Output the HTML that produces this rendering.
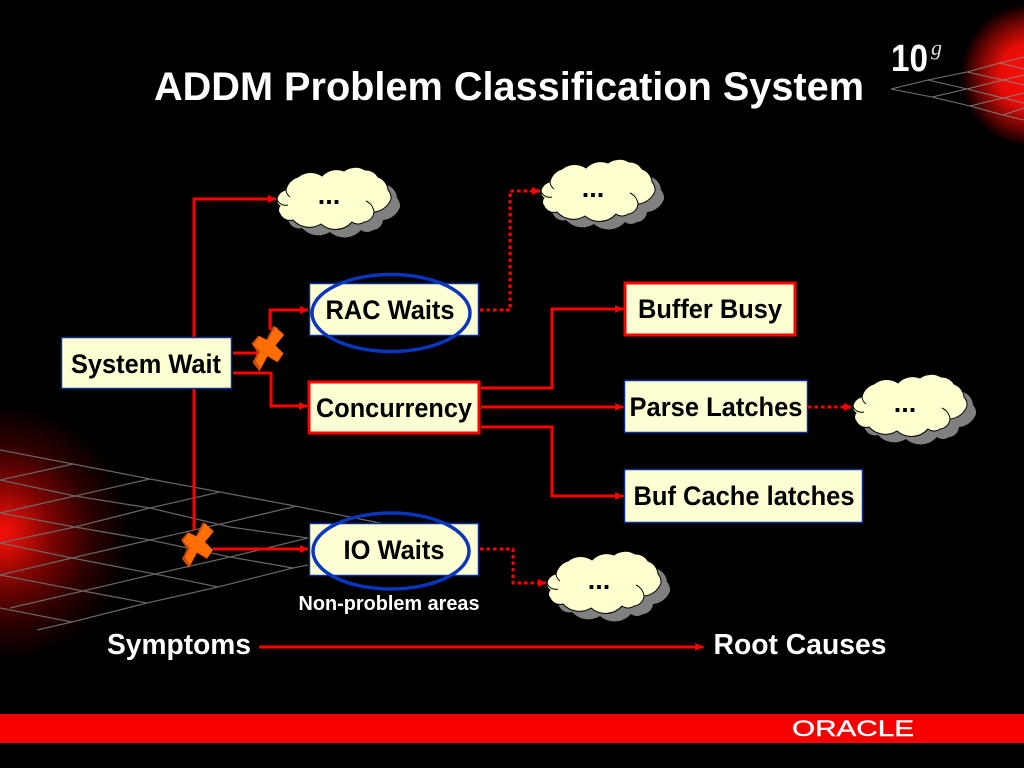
<!DOCTYPE html>
<html><head><meta charset="utf-8"><style>html,body{margin:0;padding:0;background:#000;overflow:hidden}svg{display:block}text{font-family:"Liberation Sans",sans-serif;font-weight:bold}</style></head><body>
<svg xmlns="http://www.w3.org/2000/svg" width="1024" height="768" viewBox="0 0 1024 768">
<defs>
<radialGradient id="gl"><stop offset="0" stop-color="#f81008"/><stop offset=".15" stop-color="#d00c05"/><stop offset=".4" stop-color="#780402"/><stop offset=".7" stop-color="#2c0100"/><stop offset="1" stop-color="#000"/></radialGradient>
<radialGradient id="gr"><stop offset="0" stop-color="#ff1008"/><stop offset=".45" stop-color="#e80c06"/><stop offset=".75" stop-color="#700502"/><stop offset="1" stop-color="#000"/></radialGradient>
<path id="cl" d="M0 31A11 11 0 0 1 9 22A17 17 0 0 1 21 9A20 20 0 0 1 45 8A20 20 0 0 1 67 3A19 19 0 0 1 88 2A14 14 0 0 1 101 9A15 15 0 0 1 111 22A12 12 0 0 1 114 31A20 20 0 0 1 97 44A11 11 0 0 1 87 54A10 10 0 0 1 75 54A22 22 0 0 1 44 56A22 22 0 0 1 16 52A11 11 0 0 1 3 46A6 6 0 0 1 3 38A7 7 0 0 1 0 31Z"/>
<g id="cloud"><use href="#cl" x="9" y="8" fill="#808080"/><use href="#cl" fill="#ffffd0" stroke="#000" stroke-width="1"/><path d="M89 33A14 14 0 0 1 97 44M0 31A9 9 0 0 0 11 37M9 22A10 10 0 0 0 13 29" fill="none" stroke="#000" stroke-width="1"/></g>
<marker id="a" markerUnits="userSpaceOnUse" markerWidth="9" markerHeight="8" refX="8" refY="4" orient="auto"><path d="M0 0L8 4L0 8Z" fill="#f00"/></marker>
<g id="x"><polygon fill="#c94a0e" points="6,-23 17,-14 8,-3 16,5 10,14 0,8 -8,23 -15,14 -10,4 -16,-5 -9,-13 -1,-9"/><polygon fill="#ff6e04" points="8,-22 16,-13 8,-3 16,5 10,13 0,7 -7,20 -12,12 -7,3 -14,-4 -8,-12 0,-8"/></g>
</defs>
<rect width="1024" height="768" fill="#000"/>
<circle cx="2" cy="533" r="128" fill="url(#gl)"/>
<circle cx="1032" cy="75" r="72" fill="url(#gr)"/>
<g fill="none" stroke="#6f6f6f" stroke-width="1.300" opacity=".9">
<path d="M0 450L73 464L150 479L220 492L295 506L340 515L400 527"/>
<path d="M0 480L75 496L150 508L230 527L308 538"/>
<path d="M0 513L75 527L150 540L230 557L293 568"/>
<path d="M0 543L72 558L155 574L218 587"/>
<path d="M0 575L83 591L147 603"/>
<path d="M0 608L72 622"/>
<path d="M0 480L73 464"/>
<path d="M0 513L75 496L150 479"/>
<path d="M0 543L75 527L150 508L220 492"/>
<path d="M0 575L72 558L150 540L225 523L297 506"/>
<path d="M10 608L83 591L155 574L230 557L308 538"/>
<path d="M37 630L72 622L147 603L218 587L293 568L308 565"/>
</g>
<g fill="none" stroke="#8a8a8a" stroke-width="1" opacity=".85">
<path d="M891 89L928 80L967 72L1000 63L1024 57"/>
<path d="M928 80L967 89L1003 98L1024 103"/>
<path d="M891 89L932 97L970 106L1003 115L1024 120"/>
<path d="M932 97L967 89L1003 80L1024 75"/>
<path d="M970 106L1003 98L1024 93"/>
<path d="M1003 115L1024 108"/>
<path d="M967 72L1003 80L1024 85"/>
<path d="M1000 63L1024 69"/>
</g>
<text x="154" y="100" font-size="40" fill="#fff" textLength="710" lengthAdjust="spacingAndGlyphs">ADDM Problem Classification System</text>
<text x="891" y="71" font-size="38" fill="#fff" textLength="37" lengthAdjust="spacingAndGlyphs">10</text>
<text x="931" y="55" font-size="22" fill="#ddd" style="font-family:'Liberation Serif',serif;font-style:italic;font-weight:normal">g</text>

<use href="#cloud" x="277" y="168"/>
<use href="#cloud" x="541" y="160"/>
<use href="#cloud" x="853" y="375"/>
<use href="#cloud" x="547" y="552"/>
<g font-size="27" text-anchor="middle" fill="#000">
<text x="329" y="204">...</text><text x="593" y="197">...</text><text x="905" y="412">...</text><text x="599" y="589">...</text>
</g>

<g fill="none" stroke="#f00" stroke-width="3">
<path d="M194 337V199H276" marker-end="url(#a)"/>
<path d="M194 389V530"/>
<path d="M213 549H308" marker-end="url(#a)"/>
<path d="M233 353H262"/>
<path d="M270 330V310H308" marker-end="url(#a)"/>
<path d="M233 373H271V406H307" marker-end="url(#a)"/>
<path d="M481 388H552V309H623" marker-end="url(#a)"/>
<path d="M481 407H623" marker-end="url(#a)"/>
<path d="M481 427H552V496H623" marker-end="url(#a)"/>
<path d="M259 647H703" marker-end="url(#a)"/>
<g stroke-dasharray="3.5 3">
<path d="M480 310H510V191H540" marker-end="url(#a)"/>
<path d="M808 407H852" marker-end="url(#a)"/>
<path d="M480 549H513V583H546" marker-end="url(#a)"/>
</g>
</g>

<g fill="#ffffd4" stroke="#0c2f96" stroke-width="1.5">
<rect x="61.500" y="337.500" width="170" height="51"/>
<rect x="309.500" y="283.500" width="169" height="52"/>
<rect x="624.500" y="380.500" width="183" height="52"/>
<rect x="624.500" y="469.500" width="238" height="53"/>
<rect x="309.500" y="523.500" width="169" height="52"/>
</g>
<g fill="#ffffd4" stroke="#f00" stroke-width="3">
<rect x="309" y="382" width="170" height="51"/>
<rect x="625" y="283" width="170" height="52"/>
</g>
<g fill="none" stroke="#0a35bd" stroke-width="3.500">
<ellipse cx="391" cy="313" rx="79" ry="38.500"/>
<ellipse cx="391" cy="551" rx="78" ry="38"/>
</g>
<use href="#x" x="267.500" y="348.500"/>
<use href="#x" x="197" y="545"/>
<g font-size="26.500" fill="#000" text-anchor="middle">
<text x="146" y="373" textLength="150" lengthAdjust="spacingAndGlyphs">System Wait</text>
<text x="390" y="319" textLength="129" lengthAdjust="spacingAndGlyphs">RAC Waits</text>
<text x="394" y="417" textLength="156" lengthAdjust="spacingAndGlyphs">Concurrency</text>
<text x="710" y="318" textLength="144" lengthAdjust="spacingAndGlyphs">Buffer Busy</text>
<text x="716" y="416" textLength="173" lengthAdjust="spacingAndGlyphs">Parse Latches</text>
<text x="744" y="505" textLength="221" lengthAdjust="spacingAndGlyphs">Buf Cache latches</text>
<text x="394" y="559" textLength="101" lengthAdjust="spacingAndGlyphs">IO Waits</text>
</g>
<g fill="#fff">
<text x="389" y="610" font-size="20.500" text-anchor="middle" textLength="181" lengthAdjust="spacingAndGlyphs">Non-problem areas</text>
<text x="179" y="654" font-size="29" text-anchor="middle" textLength="144" lengthAdjust="spacingAndGlyphs">Symptoms</text>
<text x="800" y="654" font-size="29" text-anchor="middle" textLength="173" lengthAdjust="spacingAndGlyphs">Root Causes</text>
</g>
<rect x="0" y="714" width="1024" height="29" fill="#f60000"/>
<text x="792" y="736" font-size="22" fill="#fff" stroke="#fff" stroke-width=".4" textLength="122" lengthAdjust="spacingAndGlyphs" style="font-weight:normal">ORACLE</text>
</svg>
</body></html>
